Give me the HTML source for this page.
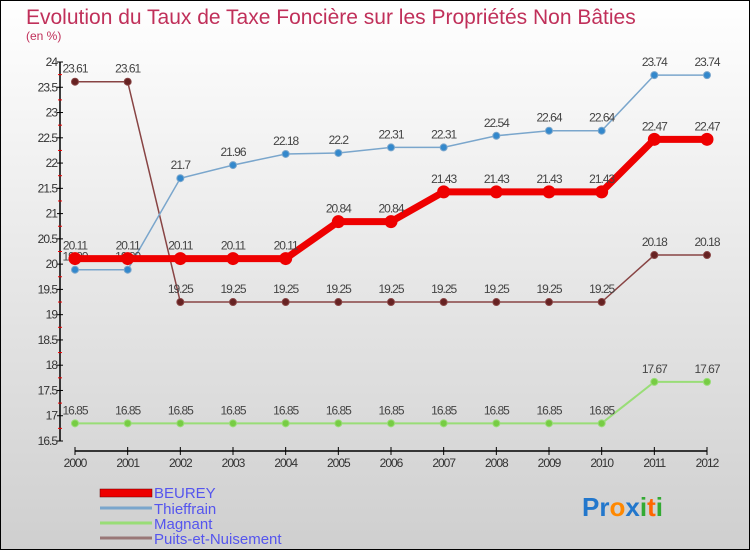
<!DOCTYPE html>
<html><head><meta charset="utf-8"><style>
body{margin:0}
#c{width:750px;height:550px;position:relative;font-family:"Liberation Sans",sans-serif}
</style></head><body>
<div id="c">
<svg id="s" width="750" height="550" xmlns="http://www.w3.org/2000/svg">
<defs><linearGradient id="bg" x1="0" y1="0" x2="0" y2="1"><stop offset="0" stop-color="#ffffff"/><stop offset="1" stop-color="#cfcfcf"/></linearGradient></defs>
<rect x="0.5" y="0.5" width="749" height="549" fill="url(#bg)" stroke="#000"/>
<text x="26" y="24" font-size="21" fill="#c0305a">Evolution du Taux de Taxe Foncière sur les Propriétés Non Bâties</text>
<text x="26" y="40" font-size="12" fill="#c0305a">(en %)</text>
<g id="axes"></g><g id="series"></g>
<g>
<rect x="100" y="489" width="52" height="8" fill="#ee0000" stroke="#600" stroke-width="0.5"/>
<text x="154" y="498" font-size="15" fill="#5555ee">BEUREY</text>
<line x1="100" y1="508" x2="152" y2="508" stroke="#7aa6cc" stroke-width="3"/>
<text x="154" y="514" font-size="15" fill="#5555ee">Thieffrain</text>
<line x1="100" y1="523" x2="152" y2="523" stroke="#99dd77" stroke-width="3"/>
<text x="154" y="529" font-size="15" fill="#5555ee">Magnant</text>
<line x1="100" y1="538" x2="152" y2="538" stroke="#997777" stroke-width="3"/>
<text x="154" y="544" font-size="15" fill="#5555ee">Puits-et-Nuisement</text>
</g>
<text x="582" y="516" font-size="26" font-weight="bold"><tspan fill="#2277cc">Pr</tspan><tspan fill="#ff8800">o</tspan><tspan fill="#2277cc">x</tspan><tspan fill="#33aa33">i</tspan><tspan fill="#ff6600">t</tspan><tspan fill="#33aa33">i</tspan></text>
</svg></div>
<script>
const years=[2000,2001,2002,2003,2004,2005,2006,2007,2008,2009,2010,2011,2012];
const yTicks=[16.5,17,17.5,18,18.5,19,19.5,20,20.5,21,21.5,22,22.5,23,23.5,24];
const beurey=[20.11,20.11,20.11,20.11,20.11,20.84,20.84,21.43,21.43,21.43,21.43,22.47,22.47];
const thieffrain=[19.89,19.89,21.7,21.96,22.18,22.2,22.31,22.31,22.54,22.64,22.64,23.74,23.74];
const magnant=[16.85,16.85,16.85,16.85,16.85,16.85,16.85,16.85,16.85,16.85,16.85,17.67,17.67];
const puits=[23.61,23.61,19.25,19.25,19.25,19.25,19.25,19.25,19.25,19.25,19.25,20.18,20.18];
const NS="http://www.w3.org/2000/svg";
const X=i=>75+i*(632/12);
const Y=v=>62+(24-v)*(379/7.5);
function mk(t,a,p){const e=document.createElementNS(NS,t);for(const k in a)e.setAttribute(k,a[k]);p.appendChild(e);return e;}
const ax=document.getElementById('axes');
let l=mk('line',{x1:60,y1:62,x2:60,y2:441,stroke:'#000','stroke-width':1.5},ax);


l=mk('line',{x1:75,y1:451,x2:707,y2:451,stroke:'#000','stroke-width':1.5},ax);


yTicks.forEach(v=>{const y=Y(v);
 mk('line',{x1:57,y1:y,x2:63,y2:y,stroke:'#000'},ax);
 if(v<24)mk('line',{x1:58,y1:Y(v+0.25),x2:62,y2:Y(v+0.25),stroke:'#e00'},ax);
 const t=mk('text',{x:57,y:y+4,'font-size':12,fill:'#333','text-anchor':'end','letter-spacing':'-1'},ax);t.textContent=v;
 
 });
years.forEach((yr,i)=>{const x=X(i);
 mk('line',{x1:x,y1:447,x2:x,y2:455,stroke:'#000'},ax);
 const t=mk('text',{x:x,y:467,'font-size':12,fill:'#333','text-anchor':'middle','letter-spacing':'-1'},ax);t.textContent=yr;
 
 });
const sg=document.getElementById('series');
function draw(vals,name,col,w,r,dot){
 const g=mk('g',{},sg);
 
 
 mk('polyline',{points:vals.map((v,i)=>X(i)+','+Y(v)).join(' '),fill:'none',stroke:col,'stroke-width':w},g);
 vals.forEach((v,i)=>{const c=mk('circle',{cx:X(i),cy:Y(v),r:r,fill:dot,stroke:col},g);
  
  
  const t=mk('text',{x:X(i),y:Y(v)-9,'font-size':12,fill:'#444','text-anchor':'middle','letter-spacing':'-1'},g);t.textContent=v;});
}
draw(magnant,'magnant','#99dd77',2,3.5,'#77cc44');
draw(puits,'puits','#884444',1.5,3.5,'#662222');
draw(thieffrain,'thieffrain','#7aa6cc',1.5,3.5,'#3388cc');
draw(beurey,'beurey','#ee0000',7,6,'#ee0000');
</script>
</body></html>
